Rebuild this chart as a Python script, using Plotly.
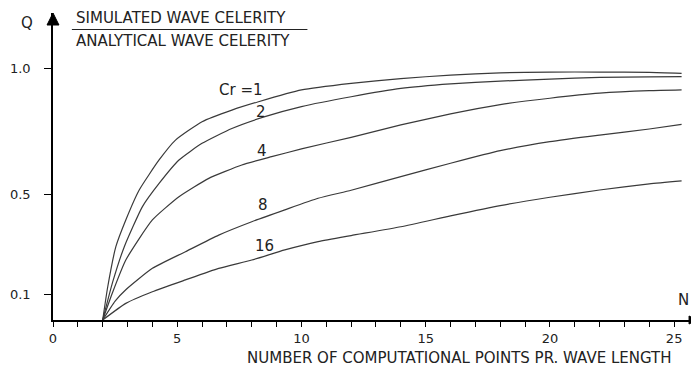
import plotly.graph_objects as go

# ---- data ----
N_cr1 = [2, 2.2, 2.53, 2.93, 3.47, 4.27, 4.93, 6, 7.2, 8.27, 10, 12, 14, 16, 18, 20, 22, 24, 25.3]
Q_cr1 = [0, 0.13, 0.291, 0.397, 0.516, 0.635, 0.714, 0.787, 0.833, 0.866, 0.913, 0.939, 0.958, 0.972, 0.981, 0.984, 0.984, 0.983, 0.979]

N_cr2 = [2, 2.4, 2.87, 3.6, 4.27, 5.07, 6, 7.2, 8.53, 10, 12, 14, 16, 18, 20, 22, 24, 25.3]
Q_cr2 = [0, 0.15, 0.291, 0.45, 0.542, 0.635, 0.701, 0.76, 0.807, 0.847, 0.886, 0.919, 0.937, 0.948, 0.956, 0.963, 0.965, 0.966]

N_cr4 = [2, 2.4, 2.93, 4, 5.07, 6.27, 7.6, 8.8, 10, 12, 14, 16, 18, 20, 22, 24, 25.3]
Q_cr4 = [0, 0.11, 0.238, 0.397, 0.489, 0.562, 0.615, 0.648, 0.679, 0.725, 0.774, 0.818, 0.855, 0.880, 0.900, 0.910, 0.913]

N_cr8 = [2, 2.5, 2.93, 4, 5.33, 6.67, 8, 9.33, 10.67, 12, 14, 16, 18, 20, 22, 24, 25.3]
Q_cr8 = [0, 0.075, 0.12, 0.205, 0.271, 0.337, 0.39, 0.437, 0.483, 0.515, 0.569, 0.622, 0.672, 0.708, 0.734, 0.758, 0.776]

N_cr16 = [2, 2.93, 4, 5.33, 6.67, 8, 9.33, 10.67, 12, 14, 16, 18, 20, 22, 24, 25.3]
Q_cr16 = [0, 0.066, 0.112, 0.159, 0.205, 0.238, 0.278, 0.311, 0.335, 0.370, 0.413, 0.454, 0.487, 0.516, 0.540, 0.552]

curve_labels = ["Cr =1", "2", "4", "8", "16"]
x_ticks = [0, 5, 10, 15, 20, 25]
y_ticks = [0.1, 0.5, 1.0]
y_tick_text = ["0.1", "0.5", "1.0"]

FONT = "DejaVu Sans"
INK = "#222222"

# plot area in screen pixels (page has an 8px body margin)
PX0, PX1, PY0, PY1 = 49, 697, 13, 320
FW, FH = 691, 364


def fx(sx):
    return (sx - PX0) / (PX1 - PX0)


def fy(sy):
    return (PY1 - sy) / (PY1 - PY0)


fig = go.Figure()
for xs, ys in [(N_cr1, Q_cr1), (N_cr2, Q_cr2), (N_cr4, Q_cr4), (N_cr8, Q_cr8), (N_cr16, Q_cr16)]:
    fig.add_trace(go.Scatter(x=xs, y=ys, mode="lines",
                             line=dict(color="#3a3a3a", width=1.2, shape="spline", smoothing=0.5),
                             showlegend=False, hoverinfo="skip"))


def note(text, sx, sy, size=15, xanchor="center"):
    fig.add_annotation(x=fx(sx), y=fy(sy), xref="paper", yref="paper", text=text,
                       showarrow=False, xanchor=xanchor, yanchor="middle",
                       font=dict(family=FONT, size=size, color=INK))


# curve labels
for txt, (sx, sy) in zip(curve_labels, [(238, 90), (258, 112), (259, 151), (260, 205), (262, 246)]):
    note(txt, sx, sy, size=15)

# title fraction
note("SIMULATED WAVE CELERITY", 70, 18, size=15, xanchor="left")
note("ANALYTICAL WAVE CELERITY", 70, 41, size=15, xanchor="left")
fig.add_shape(type="line", xref="paper", yref="paper", x0=fx(68), x1=fx(305), y0=fy(29.5), y1=fy(29.5),
              line=dict(color=INK, width=1.2))

# axis names
note("Q", 22.5, 22.5, size=15)
note("N", 683, 300, size=15)
note("NUMBER OF COMPUTATIONAL POINTS PR. WAVE LENGTH", 458, 358, size=15)

# arrowheads
hw = 6 / (PX1 - PX0)
hh = 12 / (PY1 - PY0)
fig.add_shape(type="path", xref="paper", yref="paper",
              path=f"M 0 1 L {-hw} {1 - hh} L {hw} {1 - hh} Z",
              fillcolor="black", line=dict(color="black", width=1))
aw = 8 / (PX1 - PX0)
ah = 4 / (PY1 - PY0)
fig.add_shape(type="path", xref="paper", yref="paper",
              path=f"M 1 0 L {1 - aw} {ah} L {1 - aw} {-ah} Z",
              fillcolor="black", line=dict(color="black", width=1))

fig.update_xaxes(range=[0, (PX1 - PX0) / 25.0], showgrid=False, zeroline=False,
                 showline=True, linecolor="black", linewidth=1.5,
                 tickvals=x_ticks, ticks="outside", ticklen=5, tickwidth=1.2, tickcolor="black",
                 ticklabelstandoff=1,
                 minor=dict(dtick=1, tick0=0, ticks="outside", ticklen=5, tickwidth=1.2, tickcolor="black"),
                 tickfont=dict(family=FONT, size=13, color=INK))
fig.update_yaxes(range=[0, (PY1 - PY0) / 252.0], showgrid=False, zeroline=False,
                 showline=True, linecolor="black", linewidth=1.5,
                 tickvals=y_ticks, ticktext=y_tick_text, ticks="outside", ticklen=7,
                 tickwidth=1.2, tickcolor="black", ticklabelstandoff=11,
                 tickfont=dict(family=FONT, size=13, color=INK))

fig.update_layout(width=FW, height=FH, autosize=False,
                  margin=dict(l=PX0 - 8, r=FW - (PX1 - 8), t=PY0 - 8, b=FH - (PY1 - 8)),
                  paper_bgcolor="white", plot_bgcolor="white")

fig.write_html("out.html")
